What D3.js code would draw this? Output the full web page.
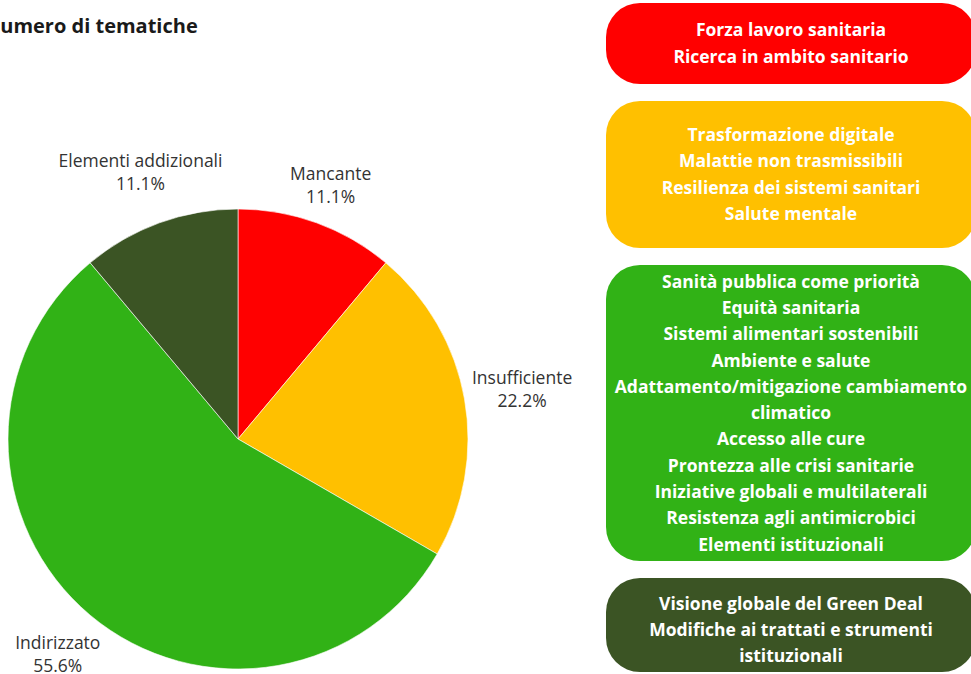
<!DOCTYPE html>
<html>
<head>
<meta charset="utf-8">
<script src="https://cdn.jsdelivr.net/npm/d3@7"></script>
<style>
	body { margin: 0; background: #fff; }
	svg { display: block; font-family: "Open Sans", sans-serif; }
	.slice-label { font-size: 17.5px; fill: #333; }
	.box-text { font-size: 17.5px; font-weight: bold; fill: #fff; }
</style>
</head>
<body>
<svg id="chart" width="971" height="674"></svg>
<script>

// data
const categories = ["Mancante", "Insufficiente", "Indirizzato", "Elementi addizionali"];
const counts = [2, 4, 10, 2];
const colors = ["#ff0000", "#ffc000", "#31b216", "#3b5424"];

const themes_mancante = ["Forza lavoro sanitaria", "Ricerca in ambito sanitario"];
const themes_insufficiente = ["Trasformazione digitale", "Malattie non trasmissibili",
	"Resilienza dei sistemi sanitari", "Salute mentale"];
const themes_indirizzato = ["Sanità pubblica come priorità", "Equità sanitaria",
	"Sistemi alimentari sostenibili", "Ambiente e salute",
	"Adattamento/mitigazione cambiamento climatico", "Accesso alle cure",
	"Prontezza alle crisi sanitarie", "Iniziative globali e multilaterali",
	"Resistenza agli antimicrobici", "Elementi istituzionali"];
const themes_addizionali = ["Visione globale del Green Deal",
	"Modifiche ai trattati e strumenti istituzionali"];

const title = "Numero di tematiche";

// layout
const svg = d3.select("#chart");
const cx = 238, cy = 439, radius = 230;
const box_x0 = 606, box_x1 = 976, box_r = 34;
const box_spans = [[3, 84], [101, 248], [265, 561], [578, 672]];
const line_h = 26.3;

svg.append("text")
	.attr("x", -16)
	.attr("y", 33)
	.style("font-size", "20px")
	.style("font-weight", "bold")
	.style("fill", "#1a1a1a")
	.text(title);

const pie = d3.pie().sort(null).value(d => d)(counts);
const arc = d3.arc().innerRadius(0).outerRadius(radius);
const total = d3.sum(counts);
const fmt = d3.format(".1f");

const pie_g = svg.append("g")
	.attr("transform", "translate(" + cx + "," + cy + ")");

pie_g.selectAll("path")
	.data(pie)
	.enter()
	.append("path")
	.attr("d", arc)
	.style("fill", (d, i) => colors[i])
	.style("stroke", "#fff")
	.style("stroke-width", "0.6px");

// slice labels: centred on the slice's mid-angle ray, pushed out until the box clears the pie
const label_pad = 5;
const label_lh = 23;
pie.forEach((d, i) => {
	const a = (d.startAngle + d.endAngle) / 2;
	const s = Math.sin(a), c = Math.cos(a);

	const t = pie_g.append("text")
		.attr("class", "slice-label")
		.attr("text-anchor", "middle");
	t.append("tspan").attr("x", 0).attr("dy", 0).text(categories[i]);
	t.append("tspan").attr("x", 0).attr("dy", label_lh).text(fmt(100 * counts[i] / total) + "%");

	const bb = t.node().getBBox();
	const w = bb.width, h = bb.height;
	const dist = radius + label_pad + Math.abs(s) * w / 2 + Math.abs(c) * h / 2;
	const mx = dist * s, my = -dist * c;
	t.attr("transform", "translate(" + mx + "," + (my - (bb.y + h / 2)) + ")");
});

// theme boxes
const box_lists = [themes_mancante, themes_insufficiente, themes_indirizzato, themes_addizionali];
const box_mid = 791;

function wrapLines(items, maxw) {
	const probe = svg.append("text").attr("class", "box-text");
	const out = [];
	items.forEach(item => {
		const words = item.split(" ");
		let line = words[0];
		for (let k = 1; k < words.length; k++) {
			probe.text(line + " " + words[k]);
			if (probe.node().getComputedTextLength() > maxw) {
				out.push(line);
				line = words[k];
			} else {
				line = line + " " + words[k];
			}
		}
		out.push(line);
	});
	probe.remove();
	return out;
}

box_lists.forEach((items, i) => {
	const [y0, y1] = box_spans[i];
	svg.append("rect")
		.attr("x", box_x0)
		.attr("y", y0)
		.attr("width", box_x1 - box_x0)
		.attr("height", y1 - y0)
		.attr("rx", box_r)
		.attr("ry", box_r)
		.style("fill", colors[i]);

	const lines = wrapLines(items, 365);
	const mid = (y0 + y1) / 2 + (i === 3 ? 5 : 0);
	const first = mid - (lines.length - 1) * line_h / 2;
	svg.append("g").selectAll("text")
		.data(lines)
		.enter()
		.append("text")
		.attr("class", "box-text")
		.attr("text-anchor", "middle")
		.attr("x", box_mid)
		.attr("y", (d, k) => first + k * line_h)
		.attr("dy", "0.35em")
		.text(d => d);
});

</script>
</body>
</html>
